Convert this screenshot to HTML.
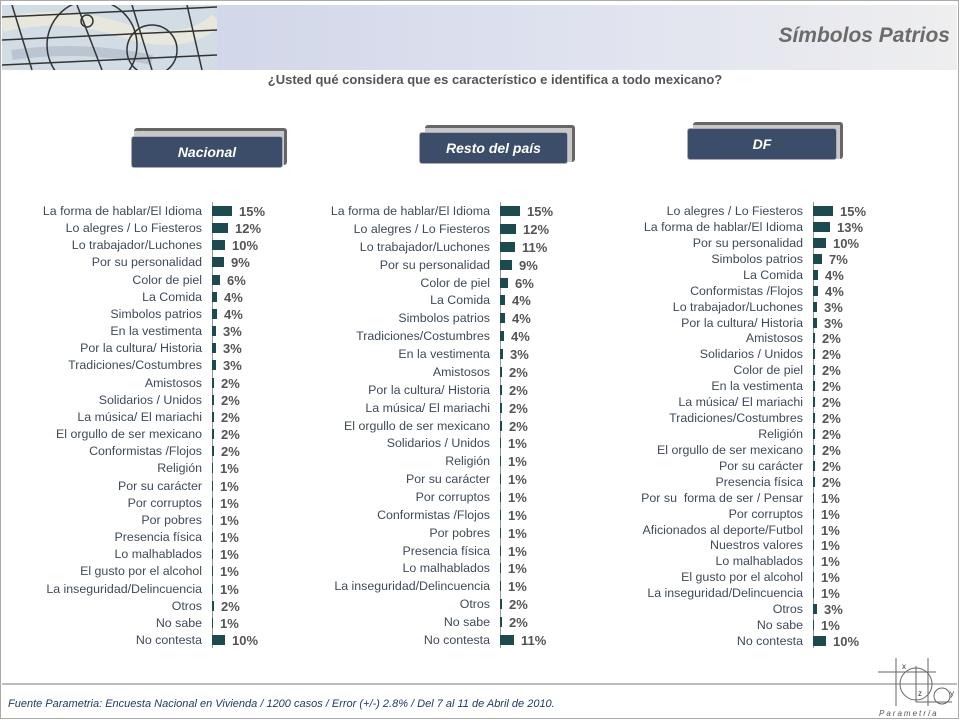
<!DOCTYPE html>
<html><head><meta charset="utf-8"><style>
body{margin:0;background:#fff;width:960px;height:720px;position:relative;overflow:hidden;font-family:"Liberation Sans",sans-serif}
.a{position:absolute}
.r{position:absolute;height:14px;display:flex;align-items:center;width:320px}
.l{width:200px;text-align:right;font-size:12.4px;color:#3f4a58;white-space:nowrap;margin-right:10px}
.b{height:10px;background:#1c4a4e;flex:none}
.v{margin-left:7px;font-size:13px;color:#555;font-weight:bold}
.ax{position:absolute;width:1px;background:#999}
.btn{position:absolute;border-radius:3px;color:#fff;font-style:italic;font-weight:bold;font-size:14px;text-align:center;background:#3c4d6a;border:1px solid #aab}
.bk{position:absolute;background:#c8c8c8;border-top:3px solid #666;border-right:3px solid #666;border-radius:3px}
</style></head><body>
<div class="a" style="left:0;top:0;width:959px;height:719px;border:1px solid #aaa;box-sizing:border-box"></div>
<div class="a" style="left:2px;top:5px;width:955px;height:65px;background:linear-gradient(90deg,#c9d0e6 0%,#dfe2ef 60%,#eeeeef 100%)"></div>
<svg class="a" style="left:2px;top:5px" width="215" height="65">
<rect width="215" height="65" fill="#d2dce4"/>
<path d="M0 20 Q60 5 120 25 T215 15" stroke="#eceadb" stroke-width="14" fill="none" opacity=".8"/>
<path d="M10 50 Q80 40 150 55" stroke="#aab6c4" stroke-width="10" fill="none" opacity=".6"/>
<g stroke="#333" stroke-width="1.5" fill="none">
<line x1="0" y1="12" x2="215" y2="2"/><line x1="0" y1="35" x2="215" y2="25"/><line x1="0" y1="60" x2="215" y2="50"/>
<line x1="10" y1="0" x2="30" y2="65"/><line x1="75" y1="0" x2="100" y2="65"/><line x1="130" y1="0" x2="150" y2="65"/><line x1="185" y1="0" x2="200" y2="65"/>
<circle cx="90" cy="40" r="45"/><circle cx="85" cy="16" r="6"/><circle cx="150" cy="45" r="25"/>
</g></svg>
<div class="a" style="right:10px;top:24px;font-size:21px;font-style:italic;font-weight:bold;color:#6b6b6b">Símbolos Patrios</div>
<div class="a" style="left:0;width:990px;text-align:center;top:72px;font-size:13px;font-weight:bold;color:#555">¿Usted qué considera que es característico e identifica a todo mexicano?</div>

<div class="bk" style="left:134px;top:128px;width:150px;height:34px"></div>
<div class="btn" style="left:131px;top:136px;width:150px;height:30px;line-height:30px">Nacional</div>
<div class="bk" style="left:425px;top:125px;width:147px;height:34px"></div>
<div class="btn" style="left:419px;top:132px;width:147px;height:30px;line-height:30px">Resto del país</div>
<div class="bk" style="left:693px;top:122px;width:147px;height:34px"></div>
<div class="btn" style="left:687px;top:128px;width:148px;height:30px;line-height:30px">DF</div>

<div class="ax" style="left:212px;top:202px;height:446px"></div>
<div class="ax" style="left:500px;top:202px;height:446px"></div>
<div class="ax" style="left:813px;top:202px;height:446px"></div>

<!-- Nacional -->
<div class="r" style="left:2px;top:204px"><span class="l">La forma de hablar/El Idioma</span><span class="b" style="width:20px"></span><span class="v">15%</span></div>
<div class="r" style="left:2px;top:221px"><span class="l">Lo alegres / Lo Fiesteros</span><span class="b" style="width:16px"></span><span class="v">12%</span></div>
<div class="r" style="left:2px;top:238px"><span class="l">Lo trabajador/Luchones</span><span class="b" style="width:13px"></span><span class="v">10%</span></div>
<div class="r" style="left:2px;top:255px"><span class="l">Por su personalidad</span><span class="b" style="width:12px"></span><span class="v">9%</span></div>
<div class="r" style="left:2px;top:273px"><span class="l">Color de piel</span><span class="b" style="width:8px"></span><span class="v">6%</span></div>
<div class="r" style="left:2px;top:290px"><span class="l">La Comida</span><span class="b" style="width:5px"></span><span class="v">4%</span></div>
<div class="r" style="left:2px;top:307px"><span class="l">Simbolos patrios</span><span class="b" style="width:5px"></span><span class="v">4%</span></div>
<div class="r" style="left:2px;top:324px"><span class="l">En la vestimenta</span><span class="b" style="width:4px"></span><span class="v">3%</span></div>
<div class="r" style="left:2px;top:341px"><span class="l">Por la cultura/ Historia</span><span class="b" style="width:4px"></span><span class="v">3%</span></div>
<div class="r" style="left:2px;top:358px"><span class="l">Tradiciones/Costumbres</span><span class="b" style="width:4px"></span><span class="v">3%</span></div>
<div class="r" style="left:2px;top:376px"><span class="l">Amistosos</span><span class="b" style="width:2px"></span><span class="v">2%</span></div>
<div class="r" style="left:2px;top:393px"><span class="l">Solidarios / Unidos</span><span class="b" style="width:2px"></span><span class="v">2%</span></div>
<div class="r" style="left:2px;top:410px"><span class="l">La música/ El mariachi</span><span class="b" style="width:2px"></span><span class="v">2%</span></div>
<div class="r" style="left:2px;top:427px"><span class="l">El orgullo de ser mexicano</span><span class="b" style="width:2px"></span><span class="v">2%</span></div>
<div class="r" style="left:2px;top:444px"><span class="l">Conformistas /Flojos</span><span class="b" style="width:2px"></span><span class="v">2%</span></div>
<div class="r" style="left:2px;top:461px"><span class="l">Religión</span><span class="b" style="width:1px"></span><span class="v">1%</span></div>
<div class="r" style="left:2px;top:479px"><span class="l">Por su carácter</span><span class="b" style="width:1px"></span><span class="v">1%</span></div>
<div class="r" style="left:2px;top:496px"><span class="l">Por corruptos</span><span class="b" style="width:1px"></span><span class="v">1%</span></div>
<div class="r" style="left:2px;top:513px"><span class="l">Por pobres</span><span class="b" style="width:1px"></span><span class="v">1%</span></div>
<div class="r" style="left:2px;top:530px"><span class="l">Presencia física</span><span class="b" style="width:1px"></span><span class="v">1%</span></div>
<div class="r" style="left:2px;top:547px"><span class="l">Lo malhablados</span><span class="b" style="width:1px"></span><span class="v">1%</span></div>
<div class="r" style="left:2px;top:564px"><span class="l">El gusto por el alcohol</span><span class="b" style="width:1px"></span><span class="v">1%</span></div>
<div class="r" style="left:2px;top:582px"><span class="l">La inseguridad/Delincuencia</span><span class="b" style="width:1px"></span><span class="v">1%</span></div>
<div class="r" style="left:2px;top:599px"><span class="l">Otros</span><span class="b" style="width:2px"></span><span class="v">2%</span></div>
<div class="r" style="left:2px;top:616px"><span class="l">No sabe</span><span class="b" style="width:1px"></span><span class="v">1%</span></div>
<div class="r" style="left:2px;top:633px"><span class="l">No contesta</span><span class="b" style="width:13px"></span><span class="v">10%</span></div>

<!-- Resto -->
<div class="r" style="left:290px;top:204px"><span class="l">La forma de hablar/El Idioma</span><span class="b" style="width:20px"></span><span class="v">15%</span></div>
<div class="r" style="left:290px;top:222px"><span class="l">Lo alegres / Lo Fiesteros</span><span class="b" style="width:16px"></span><span class="v">12%</span></div>
<div class="r" style="left:290px;top:240px"><span class="l">Lo trabajador/Luchones</span><span class="b" style="width:15px"></span><span class="v">11%</span></div>
<div class="r" style="left:290px;top:258px"><span class="l">Por su personalidad</span><span class="b" style="width:12px"></span><span class="v">9%</span></div>
<div class="r" style="left:290px;top:276px"><span class="l">Color de piel</span><span class="b" style="width:8px"></span><span class="v">6%</span></div>
<div class="r" style="left:290px;top:293px"><span class="l">La Comida</span><span class="b" style="width:5px"></span><span class="v">4%</span></div>
<div class="r" style="left:290px;top:311px"><span class="l">Simbolos patrios</span><span class="b" style="width:5px"></span><span class="v">4%</span></div>
<div class="r" style="left:290px;top:329px"><span class="l">Tradiciones/Costumbres</span><span class="b" style="width:4px"></span><span class="v">4%</span></div>
<div class="r" style="left:290px;top:347px"><span class="l">En la vestimenta</span><span class="b" style="width:3px"></span><span class="v">3%</span></div>
<div class="r" style="left:290px;top:365px"><span class="l">Amistosos</span><span class="b" style="width:2px"></span><span class="v">2%</span></div>
<div class="r" style="left:290px;top:383px"><span class="l">Por la cultura/ Historia</span><span class="b" style="width:2px"></span><span class="v">2%</span></div>
<div class="r" style="left:290px;top:401px"><span class="l">La música/ El mariachi</span><span class="b" style="width:2px"></span><span class="v">2%</span></div>
<div class="r" style="left:290px;top:419px"><span class="l">El orgullo de ser mexicano</span><span class="b" style="width:2px"></span><span class="v">2%</span></div>
<div class="r" style="left:290px;top:436px"><span class="l">Solidarios / Unidos</span><span class="b" style="width:1px"></span><span class="v">1%</span></div>
<div class="r" style="left:290px;top:454px"><span class="l">Religión</span><span class="b" style="width:1px"></span><span class="v">1%</span></div>
<div class="r" style="left:290px;top:472px"><span class="l">Por su carácter</span><span class="b" style="width:1px"></span><span class="v">1%</span></div>
<div class="r" style="left:290px;top:490px"><span class="l">Por corruptos</span><span class="b" style="width:1px"></span><span class="v">1%</span></div>
<div class="r" style="left:290px;top:508px"><span class="l">Conformistas /Flojos</span><span class="b" style="width:1px"></span><span class="v">1%</span></div>
<div class="r" style="left:290px;top:526px"><span class="l">Por pobres</span><span class="b" style="width:1px"></span><span class="v">1%</span></div>
<div class="r" style="left:290px;top:544px"><span class="l">Presencia física</span><span class="b" style="width:1px"></span><span class="v">1%</span></div>
<div class="r" style="left:290px;top:561px"><span class="l">Lo malhablados</span><span class="b" style="width:1px"></span><span class="v">1%</span></div>
<div class="r" style="left:290px;top:579px"><span class="l">La inseguridad/Delincuencia</span><span class="b" style="width:1px"></span><span class="v">1%</span></div>
<div class="r" style="left:290px;top:597px"><span class="l">Otros</span><span class="b" style="width:2px"></span><span class="v">2%</span></div>
<div class="r" style="left:290px;top:615px"><span class="l">No sabe</span><span class="b" style="width:2px"></span><span class="v">2%</span></div>
<div class="r" style="left:290px;top:633px"><span class="l">No contesta</span><span class="b" style="width:14px"></span><span class="v">11%</span></div>

<!-- DF -->
<div class="r" style="left:603px;top:204px"><span class="l">Lo alegres / Lo Fiesteros</span><span class="b" style="width:20px"></span><span class="v">15%</span></div>
<div class="r" style="left:603px;top:220px"><span class="l">La forma de hablar/El Idioma</span><span class="b" style="width:17px"></span><span class="v">13%</span></div>
<div class="r" style="left:603px;top:236px"><span class="l">Por su personalidad</span><span class="b" style="width:13px"></span><span class="v">10%</span></div>
<div class="r" style="left:603px;top:252px"><span class="l">Simbolos patrios</span><span class="b" style="width:9px"></span><span class="v">7%</span></div>
<div class="r" style="left:603px;top:268px"><span class="l">La Comida</span><span class="b" style="width:5px"></span><span class="v">4%</span></div>
<div class="r" style="left:603px;top:284px"><span class="l">Conformistas /Flojos</span><span class="b" style="width:5px"></span><span class="v">4%</span></div>
<div class="r" style="left:603px;top:300px"><span class="l">Lo trabajador/Luchones</span><span class="b" style="width:4px"></span><span class="v">3%</span></div>
<div class="r" style="left:603px;top:316px"><span class="l">Por la cultura/ Historia</span><span class="b" style="width:4px"></span><span class="v">3%</span></div>
<div class="r" style="left:603px;top:331px"><span class="l">Amistosos</span><span class="b" style="width:2px"></span><span class="v">2%</span></div>
<div class="r" style="left:603px;top:347px"><span class="l">Solidarios / Unidos</span><span class="b" style="width:2px"></span><span class="v">2%</span></div>
<div class="r" style="left:603px;top:363px"><span class="l">Color de piel</span><span class="b" style="width:2px"></span><span class="v">2%</span></div>
<div class="r" style="left:603px;top:379px"><span class="l">En la vestimenta</span><span class="b" style="width:2px"></span><span class="v">2%</span></div>
<div class="r" style="left:603px;top:395px"><span class="l">La música/ El mariachi</span><span class="b" style="width:2px"></span><span class="v">2%</span></div>
<div class="r" style="left:603px;top:411px"><span class="l">Tradiciones/Costumbres</span><span class="b" style="width:2px"></span><span class="v">2%</span></div>
<div class="r" style="left:603px;top:427px"><span class="l">Religión</span><span class="b" style="width:2px"></span><span class="v">2%</span></div>
<div class="r" style="left:603px;top:443px"><span class="l">El orgullo de ser mexicano</span><span class="b" style="width:2px"></span><span class="v">2%</span></div>
<div class="r" style="left:603px;top:459px"><span class="l">Por su carácter</span><span class="b" style="width:2px"></span><span class="v">2%</span></div>
<div class="r" style="left:603px;top:475px"><span class="l">Presencia física</span><span class="b" style="width:2px"></span><span class="v">2%</span></div>
<div class="r" style="left:603px;top:491px"><span class="l">Por su&nbsp; forma de ser / Pensar</span><span class="b" style="width:1px"></span><span class="v">1%</span></div>
<div class="r" style="left:603px;top:507px"><span class="l">Por corruptos</span><span class="b" style="width:1px"></span><span class="v">1%</span></div>
<div class="r" style="left:603px;top:523px"><span class="l">Aficionados al deporte/Futbol</span><span class="b" style="width:1px"></span><span class="v">1%</span></div>
<div class="r" style="left:603px;top:538px"><span class="l">Nuestros valores</span><span class="b" style="width:1px"></span><span class="v">1%</span></div>
<div class="r" style="left:603px;top:554px"><span class="l">Lo malhablados</span><span class="b" style="width:1px"></span><span class="v">1%</span></div>
<div class="r" style="left:603px;top:570px"><span class="l">El gusto por el alcohol</span><span class="b" style="width:1px"></span><span class="v">1%</span></div>
<div class="r" style="left:603px;top:586px"><span class="l">La inseguridad/Delincuencia</span><span class="b" style="width:1px"></span><span class="v">1%</span></div>
<div class="r" style="left:603px;top:602px"><span class="l">Otros</span><span class="b" style="width:4px"></span><span class="v">3%</span></div>
<div class="r" style="left:603px;top:618px"><span class="l">No sabe</span><span class="b" style="width:1px"></span><span class="v">1%</span></div>
<div class="r" style="left:603px;top:634px"><span class="l">No contesta</span><span class="b" style="width:13px"></span><span class="v">10%</span></div>

<div class="a" style="left:2px;top:683px;width:955px;height:2px;background:#bbb"></div>
<div class="a" style="left:8px;top:698px;font-size:11px;font-style:italic;color:#1f3b66">Fuente Parametria: Encuesta Nacional en Vivienda / 1200 casos / Error (+/-) 2.8% / Del 7 al 11 de Abril de 2010.</div>
<svg class="a" style="left:876px;top:656px" width="82" height="62">
<g stroke="#666" fill="none" stroke-width="1">
<line x1="2" y1="16" x2="60" y2="16"/><line x1="20" y1="2" x2="20" y2="50"/><line x1="52" y1="2" x2="52" y2="50"/>
<circle cx="40" cy="28" r="16"/><circle cx="66" cy="40" r="8"/><line x1="40" y1="10" x2="40" y2="46"/><line x1="40" y1="46" x2="76" y2="46"/>
</g>
<text x="26" y="13" font-size="8" fill="#333">x</text><text x="42" y="40" font-size="8" fill="#333">z</text><text x="74" y="40" font-size="8" fill="#333">y</text>
<text x="3" y="60" font-size="8" font-style="italic" fill="#555" letter-spacing="2">Parametría</text>
</svg>
</body></html>
